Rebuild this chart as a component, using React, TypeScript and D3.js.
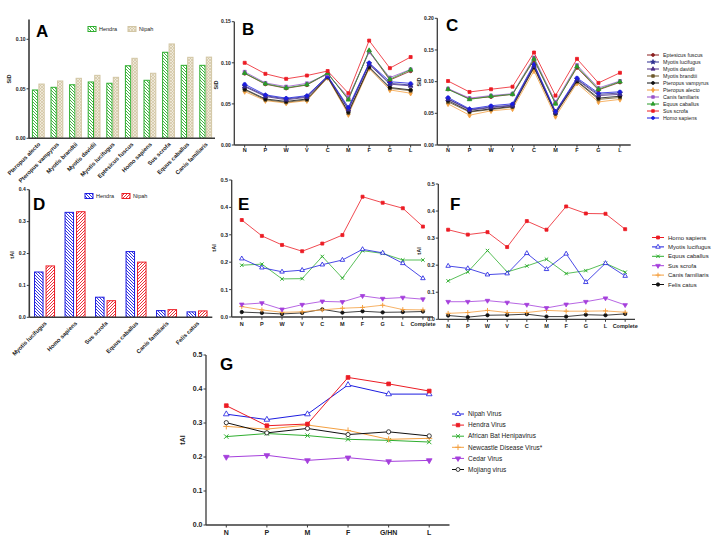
import React from 'react';
import * as d3 from 'd3';

const FONT = 'Arial, "Liberation Sans", Helvetica, sans-serif';

// ---------- Panel A data ----------
const speciesA = ['Pteropus alecto', 'Pteropus vampyrus', 'Myotis brandtii', 'Myotis davidii', 'Myotis lucifugus', 'Eptesicus fuscus', 'Homo sapiens', 'Sus scrofa', 'Equus caballus', 'Canis familiaris'];
const hendraA = [0.0488, 0.0515, 0.0541, 0.0569, 0.0556, 0.0733, 0.0586, 0.0869, 0.0737, 0.0737];
const nipahA = [0.0548, 0.0579, 0.0606, 0.0636, 0.0616, 0.0808, 0.0657, 0.0953, 0.0818, 0.0820];
const ticksA = [0, 0.05, 0.1];

// ---------- Panel D data ----------
const speciesD = ['Myotis lucifugus', 'Homo sapiens', 'Sus scrofa', 'Equus caballus', 'Canis familiaris', 'Felis catus'];
const hendraD = [0.142, 0.329, 0.063, 0.206, 0.021, 0.017];
const nipahD = [0.161, 0.331, 0.052, 0.173, 0.024, 0.020];
const ticksD = [0, 0.1, 0.2, 0.3, 0.4];

// ---------- Panels B / C data ----------
const genesBC = ['N', 'P', 'W', 'V', 'C', 'M', 'F', 'G', 'L'];
const legendBC = ['Eptesicus fuscus', 'Myotis lucifugus', 'Myotis davidii', 'Myotis brandtii', 'Pteropus vampyrus', 'Pteropus alecto', 'Canis familiaris', 'Equus caballus', 'Sus scrofa', 'Homo sapiens'];
const B_eptesicus = [0.087, 0.074, 0.069, 0.073, 0.087, 0.056, 0.114, 0.079, 0.090];
const B_lucifugus = [0.072, 0.060, 0.056, 0.059, 0.084, 0.044, 0.099, 0.075, 0.073];
const B_davidii = [0.071, 0.059, 0.055, 0.058, 0.083, 0.043, 0.098, 0.074, 0.072];
const B_brandtii = [0.067, 0.055, 0.052, 0.055, 0.082, 0.039, 0.094, 0.069, 0.066];
const B_vampyrus = [0.068, 0.056, 0.053, 0.056, 0.083, 0.040, 0.095, 0.070, 0.067];
const B_alecto = [0.065, 0.054, 0.051, 0.054, 0.082, 0.037, 0.093, 0.067, 0.063];
const B_canis = [0.089, 0.0755, 0.071, 0.075, 0.086, 0.058, 0.113, 0.082, 0.092];
const B_equus = [0.0875, 0.0745, 0.0695, 0.0735, 0.0875, 0.055, 0.115, 0.080, 0.0915];
const B_sus = [0.100, 0.0866, 0.0805, 0.0845, 0.090, 0.063, 0.127, 0.0935, 0.107];
const B_homo = [0.074, 0.061, 0.057, 0.060, 0.084, 0.046, 0.100, 0.077, 0.075];
const ticksB = [0, 0.05, 0.1, 0.15];

const C_eptesicus = [0.088, 0.073, 0.076, 0.080, 0.134, 0.066, 0.122, 0.087, 0.099];
const C_lucifugus = [0.073, 0.056, 0.060, 0.063, 0.126, 0.052, 0.104, 0.080, 0.082];
const C_davidii = [0.072, 0.055, 0.059, 0.062, 0.125, 0.051, 0.103, 0.078, 0.080];
const C_brandtii = [0.068, 0.052, 0.056, 0.060, 0.122, 0.049, 0.100, 0.072, 0.075];
const C_vampyrus = [0.070, 0.053, 0.057, 0.061, 0.123, 0.050, 0.101, 0.074, 0.077];
const C_alecto = [0.065, 0.047, 0.054, 0.057, 0.117, 0.045, 0.0975, 0.068, 0.072];
const C_canis = [0.089, 0.074, 0.078, 0.081, 0.138, 0.068, 0.126, 0.090, 0.101];
const C_equus = [0.088, 0.072, 0.077, 0.080, 0.136, 0.065, 0.124, 0.088, 0.100];
const C_sus = [0.101, 0.0837, 0.088, 0.092, 0.146, 0.078, 0.136, 0.098, 0.114];
const C_homo = [0.075, 0.057, 0.062, 0.065, 0.128, 0.053, 0.106, 0.082, 0.084];
const ticksC = [0, 0.05, 0.1, 0.15, 0.2];

// ---------- Panels E / F data ----------
const genesEF = ['N', 'P', 'W', 'V', 'C', 'M', 'F', 'G', 'L', 'Complete'];
const legendEF = ['Homo sapiens', 'Myotis lucifugus', 'Equus caballus', 'Sus scrofa', 'Canis familiaris', 'Felis catus'];
const E_homo = [0.354, 0.296, 0.263, 0.240, 0.268, 0.299, 0.439, 0.417, 0.397, 0.330];
const E_myotis = [0.213, 0.180, 0.165, 0.171, 0.191, 0.208, 0.247, 0.234, 0.196, 0.141];
const E_equus = [0.189, 0.193, 0.139, 0.140, 0.221, 0.142, 0.242, 0.232, 0.208, 0.208];
const E_sus = [0.046, 0.051, 0.028, 0.045, 0.057, 0.055, 0.077, 0.067, 0.071, 0.065];
const E_canis = [0.038, 0.026, 0.017, 0.019, 0.026, 0.032, 0.035, 0.043, 0.027, 0.026];
const E_felis = [0.018, 0.015, 0.011, 0.015, 0.028, 0.016, 0.021, 0.017, 0.018, 0.020];
const F_homo = [0.331, 0.313, 0.322, 0.267, 0.363, 0.331, 0.417, 0.391, 0.390, 0.333];
const F_myotis = [0.197, 0.188, 0.165, 0.169, 0.244, 0.185, 0.242, 0.137, 0.207, 0.160];
const F_equus = [0.142, 0.175, 0.254, 0.175, 0.197, 0.222, 0.169, 0.180, 0.207, 0.174];
const F_sus = [0.065, 0.065, 0.069, 0.062, 0.054, 0.042, 0.055, 0.065, 0.078, 0.053];
const F_canis = [0.022, 0.025, 0.033, 0.025, 0.025, 0.033, 0.030, 0.030, 0.031, 0.026];
const F_felis = [0.014, 0.008, 0.015, 0.016, 0.019, 0.010, 0.010, 0.017, 0.015, 0.020];
const ticksEF = [0, 0.1, 0.2, 0.3, 0.4, 0.5];

// ---------- Panel G data ----------
const genesG = ['N', 'P', 'M', 'F', 'G/HN', 'L'];
const legendG = ['Nipah Virus', 'Hendra Virus', 'African Bat Henipavirus', 'Newcastle Disease Virus*', 'Cedar Virus', 'Mojiang virus'];
const G_nipah = [0.326, 0.310, 0.326, 0.412, 0.385, 0.385];
const G_hendra = [0.351, 0.292, 0.297, 0.434, 0.415, 0.394];
const G_abh = [0.260, 0.269, 0.263, 0.252, 0.249, 0.244];
const G_ndv = [0.290, 0.282, 0.294, 0.278, 0.252, 0.255];
const G_cedar = [0.200, 0.205, 0.190, 0.198, 0.187, 0.190];
const G_mojiang = [0.301, 0.271, 0.284, 0.266, 0.274, 0.262];
const ticksG = [0, 0.1, 0.2, 0.3, 0.4, 0.5];

// ---------- colours ----------
const RED = '#ec1c24';
const BLUE = '#1c1ce0';
const GREEN = '#2fae2f';
const VIOLET = '#a53fdc';
const ORANGE = '#f4a040';
const BLACK = '#111111';
const AXIS = '#3a3a3a';

type Series = { name: string; color: string; shape: string; open?: boolean; values: number[] };

function symPath(shape: string, size: number): { d: string; rot: number; strokeOnly: boolean } {
  const anyd3 = d3 as any;
  let type: any = d3.symbolSquare;
  let rot = 0;
  let strokeOnly = false;
  switch (shape) {
    case 'circle': type = d3.symbolCircle; break;
    case 'triangle': type = d3.symbolTriangle; break;
    case 'tridown': type = d3.symbolTriangle; rot = 180; break;
    case 'diamond': type = d3.symbolDiamond; break;
    case 'star': type = d3.symbolStar; break;
    case 'x':
      if (anyd3.symbolTimes) { type = anyd3.symbolTimes; strokeOnly = true; }
      else { type = d3.symbolCross; rot = 45; }
      break;
    case 'plus':
      if (anyd3.symbolPlus) { type = anyd3.symbolPlus; strokeOnly = true; }
      else { type = d3.symbolCross; }
      break;
    default: type = d3.symbolSquare;
  }
  return { d: d3.symbol().type(type).size(size)() as string, rot, strokeOnly };
}

function Marker({ x, y, s, size }: { x: number; y: number; s: Series; size: number }) {
  const p = symPath(s.shape, size);
  return (
    <path
      d={p.d}
      transform={`translate(${x},${y}) rotate(${p.rot})`}
      fill={p.strokeOnly ? 'none' : s.open ? '#fff' : s.color}
      stroke={s.color}
      strokeWidth={p.strokeOnly ? 1 : 0.8}
    />
  );
}

type LineProps = {
  cats: string[]; series: Series[]; x0: number; x1: number; y0: number; yTop: number; max: number;
  ticks: number[]; fmt: string; tickFs: number; catFs: number; catY: number; msize: number; lw: number;
  ylabel: string; ylabelX: number; ylabelY: number; ylabelFs: number;
  letter: string; letterX: number; letterY: number;
};

function LinePanel(p: LineProps) {
  const x = d3.scalePoint<string>().domain(p.cats).range([p.x0, p.x1]).padding(0.5);
  const y = d3.scaleLinear().domain([0, p.max]).range([p.y0, p.yTop]);
  const f = d3.format(p.fmt);
  const line = d3.line<number>().x((_, i) => x(p.cats[i]) as number).y((d) => y(d));
  return (
    <g>
      <text x={p.letterX} y={p.letterY} fontSize={17} fontWeight="bold" fontFamily={FONT}>{p.letter}</text>
      <line x1={p.x0} x2={p.x0} y1={p.yTop} y2={p.y0} stroke={AXIS} strokeWidth={1.3} />
      <line x1={p.x0} x2={p.x1} y1={p.y0} y2={p.y0} stroke={AXIS} strokeWidth={1.3} />
      {p.ticks.map((t) => (
        <g key={t}>
          <line x1={p.x0 - 2.5} x2={p.x0} y1={y(t)} y2={y(t)} stroke={AXIS} strokeWidth={1} />
          <text x={p.x0 - 3.5} y={y(t)} dy="0.35em" textAnchor="end" fontSize={p.tickFs} fontWeight="bold" fontFamily={FONT} fill="#222">{f(t)}</text>
        </g>
      ))}
      {p.cats.map((c) => (
        <g key={c}>
          <line x1={x(c)} x2={x(c)} y1={p.y0} y2={p.y0 + 2.5} stroke={AXIS} strokeWidth={1} />
          <text x={x(c)} y={p.catY} textAnchor="middle" fontSize={p.catFs} fontWeight="bold" fontFamily={FONT} fill="#222">{c}</text>
        </g>
      ))}
      <text transform={`translate(${p.ylabelX},${p.ylabelY}) rotate(-90)`} textAnchor="middle" fontSize={p.ylabelFs} fontWeight="bold" fontFamily={FONT} fill="#222">{p.ylabel}</text>
      {p.series.map((s) => (
        <g key={s.name}>
          <path d={line(s.values) as string} fill="none" stroke={s.color} strokeWidth={p.lw} />
          {s.values.map((v, i) => (
            <Marker key={i} x={x(p.cats[i]) as number} y={y(v)} s={s} size={p.msize} />
          ))}
        </g>
      ))}
    </g>
  );
}

function Legend({ items, x, y0, dy, fs, msize }: { items: Series[]; x: number; y0: number; dy: number; fs: number; msize: number }) {
  return (
    <g>
      {items.map((s, i) => {
        const yy = y0 + i * dy;
        return (
          <g key={s.name}>
            <line x1={x - 6} x2={x + 6} y1={yy} y2={yy} stroke={s.color} strokeWidth={1} />
            <Marker x={x} y={yy} s={s} size={msize} />
            <text x={x + 10} y={yy} dy="0.35em" fontSize={fs} fontFamily={FONT} fill="#222">{s.name}</text>
          </g>
        );
      })}
    </g>
  );
}

type BarProps = {
  cats: string[]; a: number[]; b: number[]; x0: number; x1: number; y0: number; yTop: number; max: number;
  ticks: number[]; fmt: string; barW: number; gap: number; fillA: string; fillB: string; strokeA: string; strokeB: string;
  ylabel: string; ylabelX: number; ylabelY: number; letter: string; letterX: number; letterY: number;
  legX: number; legY: number; legGap: number; nameA: string; nameB: string;
};

function BarPanel(p: BarProps) {
  const x = d3.scaleBand<string>().domain(p.cats).range([p.x0, p.x1]).padding(0);
  const y = d3.scaleLinear().domain([0, p.max]).range([p.y0, p.yTop]);
  const f = d3.format(p.fmt);
  const bw = x.bandwidth();
  return (
    <g>
      <text x={p.letterX} y={p.letterY} fontSize={17} fontWeight="bold" fontFamily={FONT}>{p.letter}</text>
      {p.cats.map((c, i) => {
        const cx = (x(c) as number) + bw / 2;
        return (
          <g key={c}>
            <rect x={cx - p.gap / 2 - p.barW} y={y(p.a[i])} width={p.barW} height={p.y0 - y(p.a[i])} fill={p.fillA} stroke={p.strokeA} strokeWidth={1} />
            <rect x={cx + p.gap / 2} y={y(p.b[i])} width={p.barW} height={p.y0 - y(p.b[i])} fill={p.fillB} stroke={p.strokeB} strokeWidth={1} />
            <text transform={`translate(${cx + 1},${p.y0 + 5}) rotate(-45)`} textAnchor="end" dy="0.35em" fontSize={5.8} fontWeight="bold" fontFamily={FONT} fill="#222">{c}</text>
          </g>
        );
      })}
      <line x1={p.x0} x2={p.x0} y1={p.yTop} y2={p.y0} stroke={AXIS} strokeWidth={1.6} />
      <line x1={p.x0} x2={p.x1} y1={p.y0} y2={p.y0} stroke={AXIS} strokeWidth={1.6} />
      {p.ticks.map((t) => (
        <g key={t}>
          <line x1={p.x0 - 2.5} x2={p.x0} y1={y(t)} y2={y(t)} stroke={AXIS} strokeWidth={1} />
          <text x={p.x0 - 3.5} y={y(t)} dy="0.35em" textAnchor="end" fontSize={5} fontWeight="bold" fontFamily={FONT} fill="#222">{f(t)}</text>
        </g>
      ))}
      <text transform={`translate(${p.ylabelX},${p.ylabelY}) rotate(-90)`} textAnchor="middle" fontSize={5.5} fontWeight="bold" fontFamily={FONT} fill="#222">{p.ylabel}</text>
      <rect x={p.legX} y={p.legY - 2.5} width={8} height={5} fill={p.fillA} stroke={p.strokeA} strokeWidth={1} />
      <text x={p.legX + 11} y={p.legY} dy="0.35em" fontSize={5.5} fontFamily={FONT} fill="#222">{p.nameA}</text>
      <rect x={p.legX + p.legGap} y={p.legY - 2.5} width={8} height={5} fill={p.fillB} stroke={p.strokeB} strokeWidth={1} />
      <text x={p.legX + p.legGap + 11} y={p.legY} dy="0.35em" fontSize={5.5} fontFamily={FONT} fill="#222">{p.nameB}</text>
    </g>
  );
}

export default function App() {
  const bcSeries = (vals: number[][]): Series[] => [
    { name: legendBC[0], color: '#8a1f1f', shape: 'circle', values: vals[0] },
    { name: legendBC[1], color: '#2d2d8f', shape: 'star', values: vals[1] },
    { name: legendBC[2], color: '#4b2a86', shape: 'triangle', values: vals[2] },
    { name: legendBC[3], color: '#6e5a2c', shape: 'square', values: vals[3] },
    { name: legendBC[4], color: BLACK, shape: 'circle', values: vals[4] },
    { name: legendBC[5], color: ORANGE, shape: 'diamond', values: vals[5] },
    { name: legendBC[6], color: '#9b55cc', shape: 'square', values: vals[6] },
    { name: legendBC[7], color: '#2a9a2a', shape: 'triangle', values: vals[7] },
    { name: legendBC[8], color: RED, shape: 'square', values: vals[8] },
    { name: legendBC[9], color: BLUE, shape: 'circle', values: vals[9] },
  ];
  const Bs = bcSeries([B_eptesicus, B_lucifugus, B_davidii, B_brandtii, B_vampyrus, B_alecto, B_canis, B_equus, B_sus, B_homo]);
  const Cs = bcSeries([C_eptesicus, C_lucifugus, C_davidii, C_brandtii, C_vampyrus, C_alecto, C_canis, C_equus, C_sus, C_homo]);
  // drawing order: lower bundle first, then upper lines
  const order = [5, 3, 4, 2, 1, 9, 0, 6, 7, 8];
  const Bdraw = order.map((i) => Bs[i]);
  const Cdraw = order.map((i) => Cs[i]);

  const efSeries = (vals: number[][]): Series[] => [
    { name: legendEF[0], color: RED, shape: 'square', values: vals[0] },
    { name: legendEF[1], color: BLUE, shape: 'triangle', open: true, values: vals[1] },
    { name: legendEF[2], color: GREEN, shape: 'x', values: vals[2] },
    { name: legendEF[3], color: VIOLET, shape: 'tridown', values: vals[3] },
    { name: legendEF[4], color: ORANGE, shape: 'plus', values: vals[4] },
    { name: legendEF[5], color: BLACK, shape: 'circle', values: vals[5] },
  ];
  const Es = efSeries([E_homo, E_myotis, E_equus, E_sus, E_canis, E_felis]);
  const Fs = efSeries([F_homo, F_myotis, F_equus, F_sus, F_canis, F_felis]);
  const efOrder = [5, 4, 3, 2, 1, 0];

  const Gs: Series[] = [
    { name: legendG[0], color: BLUE, shape: 'triangle', open: true, values: G_nipah },
    { name: legendG[1], color: RED, shape: 'square', values: G_hendra },
    { name: legendG[2], color: GREEN, shape: 'x', values: G_abh },
    { name: legendG[3], color: ORANGE, shape: 'plus', values: G_ndv },
    { name: legendG[4], color: VIOLET, shape: 'tridown', values: G_cedar },
    { name: legendG[5], color: BLACK, shape: 'circle', open: true, values: G_mojiang },
  ];
  const gOrder = [4, 2, 3, 5, 0, 1];

  return (
    <svg width={721} height={544} style={{ position: 'absolute', left: 0, top: 0, background: '#fff' }}>
      <defs>
        <pattern id="hatchGreen" patternUnits="userSpaceOnUse" width={3} height={3}>
          <rect width={3} height={3} fill="#fff" />
          <path d="M0,0 L3,3 M-1,2 L1,4 M2,-1 L4,1" stroke={GREEN} strokeWidth={0.9} />
        </pattern>
        <pattern id="hatchTan" patternUnits="userSpaceOnUse" width={3} height={3}>
          <rect width={3} height={3} fill="#efe9d9" />
          <path d="M0,0 L3,3 M0,3 L3,0" stroke="#cbbd98" strokeWidth={0.6} />
        </pattern>
        <pattern id="hatchBlue" patternUnits="userSpaceOnUse" width={3} height={3}>
          <rect width={3} height={3} fill="#fff" />
          <path d="M0,0 L3,3 M-1,2 L1,4 M2,-1 L4,1" stroke={BLUE} strokeWidth={0.9} />
        </pattern>
        <pattern id="hatchRed" patternUnits="userSpaceOnUse" width={3} height={3}>
          <rect width={3} height={3} fill="#fff" />
          <path d="M0,3 L3,0 M-1,1 L1,-1 M2,4 L4,2" stroke={RED} strokeWidth={0.9} />
        </pattern>
      </defs>

      <BarPanel cats={speciesA} a={hendraA} b={nipahA} x0={29} x1={215} y0={138.3} yTop={19.5} max={0.12}
        ticks={ticksA} fmt=".2f" barW={5.3} gap={1.2} fillA="url(#hatchGreen)" fillB="url(#hatchTan)"
        strokeA={GREEN} strokeB="#d2c6a4" ylabel="SiD" ylabelX={11} ylabelY={79}
        letter="A" letterX={36} letterY={37} legX={88} legY={29} legGap={40} nameA="Hendra" nameB="Nipah" />

      <BarPanel cats={speciesD} a={hendraD} b={nipahD} x0={29.3} x1={212.3} y0={317.3} yTop={189.7} max={0.4}
        ticks={ticksD} fmt=".1f" barW={8.5} gap={3} fillA="url(#hatchBlue)" fillB="url(#hatchRed)"
        strokeA={BLUE} strokeB={RED} ylabel="tAI" ylabelX={14} ylabelY={255}
        letter="D" letterX={33} letterY={210} legX={85} legY={196} legGap={37} nameA="Hendra" nameB="Nipah" />

      <LinePanel cats={genesBC} series={Bdraw} x0={234.3} x1={421} y0={145} yTop={21.7} max={0.15}
        ticks={ticksB} fmt=".2f" tickFs={5} catFs={5.5} catY={152} msize={9} lw={0.8}
        ylabel="SiD" ylabelX={218} ylabelY={85} ylabelFs={5.5} letter="B" letterX={242} letterY={35} />

      <LinePanel cats={genesBC} series={Cdraw} x0={437.3} x1={630.7} y0={145} yTop={18.3} max={0.2}
        ticks={ticksC} fmt=".2f" tickFs={5} catFs={5.5} catY={152} msize={9} lw={0.8}
        ylabel="SiD" ylabelX={421} ylabelY={82} ylabelFs={5.5} letter="C" letterX={446} letterY={31} />

      <Legend items={Bs} x={653} y0={55} dy={7} fs={5.3} msize={7} />

      <LinePanel cats={genesEF} series={efOrder.map((i) => Es[i])} x0={231.7} x1={433} y0={317} yTop={180} max={0.5}
        ticks={ticksEF} fmt=".1f" tickFs={5.5} catFs={5.5} catY={326} msize={9} lw={0.8}
        ylabel="tAI" ylabelX={216} ylabelY={248} ylabelFs={5.5} letter="E" letterX={238} letterY={210} />

      <LinePanel cats={genesEF} series={efOrder.map((i) => Fs[i])} x0={438.3} x1={635} y0={319.3} yTop={184} max={0.5}
        ticks={ticksEF} fmt=".1f" tickFs={5.5} catFs={5.5} catY={328} msize={9} lw={0.8}
        ylabel="tAI" ylabelX={421} ylabelY={251} ylabelFs={5.5} letter="F" letterX={450} letterY={210} />

      <Legend items={Es} x={658} y0={237.5} dy={9.4} fs={6} msize={9} />

      <LinePanel cats={genesG} series={gOrder.map((i) => Gs[i])} x0={206} x1={449.5} y0={525} yTop={355} max={0.5}
        ticks={ticksG} fmt=".1f" tickFs={7} catFs={7} catY={535} msize={14} lw={1}
        ylabel="tAI" ylabelX={185} ylabelY={440} ylabelFs={7} letter="G" letterX={220} letterY={370} />

      <Legend items={Gs} x={458} y0={414} dy={11.1} fs={6.5} msize={12} />
    </svg>
  );
}
